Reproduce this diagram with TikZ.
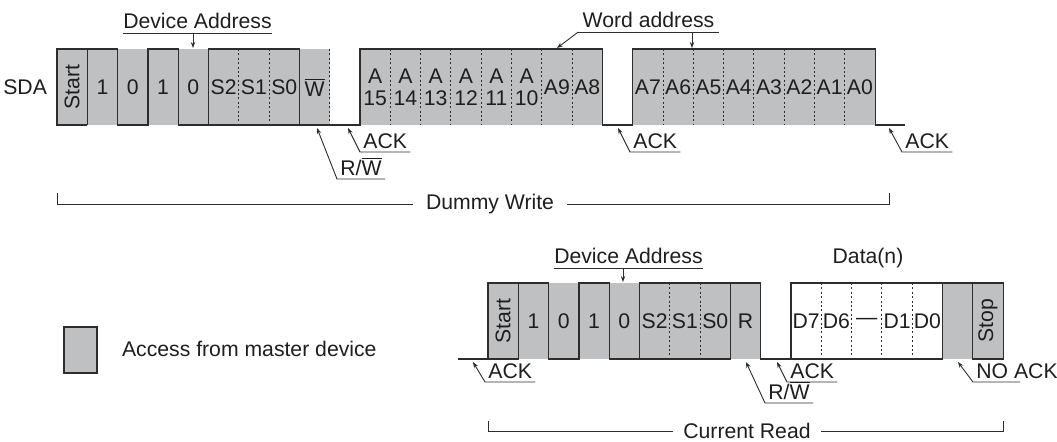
\documentclass[tikz,border=0pt]{standalone}
\usepackage{fontspec}
\setmainfont{Liberation Sans}
\usetikzlibrary{arrows.meta}
\definecolor{mastergray}{RGB}{191,192,194}
\definecolor{wirecol}{RGB}{45,45,45}
\definecolor{inkcol}{RGB}{30,30,30}

\begin{document}
\begin{tikzpicture}[x=0.5pt, y=-0.5pt,
every node/.style = {font=\fontsize{10.6}{11}\selectfont, text=inkcol},
master/.style = {fill=mastergray},
wire/.style = {draw=wirecol, line width=0.6pt},
divider/.style = {draw=wirecol, line width=0.45pt, dash pattern=on 1pt off 1.2pt},
bit/.style = {inner sep=0pt},
ul/.style = {anchor=south west, inner xsep=1.5pt, inner ysep=1.5pt, text depth=0pt},
hdr/.style = {anchor=south, inner xsep=0pt, inner ysep=2pt, text depth=0pt},
ptr/.style = {draw=wirecol, line width=0.45pt, -{Stealth[length=3pt, width=2.2pt]}}]
\useasboundingbox (0,0) rectangle (1057,441);

% dummy write: one unit of x is one bit cell
\begin{scope}[xshift=28.5pt, x=15.15pt]
  \fill[master] (0,49) rectangle (9,125);
  \fill[master] (10,49) rectangle (18,125);
  \fill[master] (19,49) rectangle (27,125);
  \draw[wire] (1,125) -- (0,125) -- (0,49) -- (2,49) -- (2,125) -- (3,125) -- (3,49)
    -- (4,49) -- (4,125) -- (10,125) -- (10,49) -- (18,49) -- (18,125) -- (19,125)
    -- (19,49) -- (27,49) -- (27,125) -- (28,125);
  \draw[wire] (1,49) -- (1,125);
  \draw[wire] (5,125) -- (5,49) -- (8,49) -- (8,125);
  \foreach \k in {6,7,9,11,12,...,17,20,21,...,26}
    \draw[divider] (\k,49) -- (\k,125);
  \node[bit, rotate=90] (dwstart) at (0.5,87) {Start};
  \foreach \lbl [count=\k from 1] in {1,0,1,0,S2,S1,S0,{$\overline{\mbox{W}}$}}
    \node[bit] (dwbit\k) at (\k+0.5,87) {\lbl};
  \foreach \n [count=\k from 0] in {15,14,13,12,11,10}
    \node[bit, align=center] (dwa\n) at (10.5+\k,87) {A\\\n};
  \node[bit] (dwa9) at (16.5,87) {A9};
  \node[bit] (dwa8) at (17.5,87) {A8};
  \foreach \n [count=\k from 0] in {7,6,...,0}
    \node[bit] (dwa\n) at (19.5+\k,87) {A\n};
\end{scope}

% current read
\begin{scope}[xshift=244pt, yshift=-117pt, x=15.15pt]
  \fill[master] (0,49) rectangle (9,125);
  \fill[master] (15,49) rectangle (17,125);
  \draw[wire] (-1,125) -- (1,125) -- (1,49);
  \draw[wire] (0,125) -- (0,49) -- (2,49) -- (2,125) -- (3,125) -- (3,49)
    -- (4,49) -- (4,125) -- (8,125) -- (8,49);
  \draw[wire] (5,125) -- (5,49) -- (9,49) -- (9,125) -- (15,125) -- (15,49);
  \draw[wire] (10,125) -- (10,49) -- (17,49) -- (17,125) -- (16,125) -- (16,49);
  \foreach \k in {6,7,11,12,13,14}
    \draw[divider] (\k,49) -- (\k,125);
  \node[bit, rotate=90] (crstart) at (0.5,87) {Start};
  \foreach \lbl [count=\k from 1] in {1,0,1,0,S2,S1,S0,R}
    \node[bit] (crbit\k) at (\k+0.5,87) {\lbl};
  \foreach \lbl [count=\k from 0] in {D7,D6,\textemdash,D1,D0}
    \node[bit] (crd\k) at (10.5+\k,87) {\lbl};
  \node[bit, rotate=90] (crstop) at (16.5,87) {Stop};
\end{scope}

\node[anchor=east] (sda) at (54,87) {SDA};

% headings over the frames
\node[hdr] (dwdev) at (197.5,33) {Device Address};
\draw[wire, line width=0.45pt] (dwdev.south west) -- (dwdev.south east);
\coordinate (dwdevtip) at (193,48);
\draw[ptr] (dwdevtip |- dwdev.south) -- (dwdevtip);

\node[hdr, inner xsep=2pt] (wadr) at (648.5,32) {Word address};
\draw[wire, line width=0.45pt] (wadr.south west) -- (wadr.south east);
\coordinate (wadrhi) at (557,48);
\coordinate (wadrlo) at (692,48);
\draw[ptr] (wadr.south west) -- (wadrhi);
\draw[ptr] (wadrlo |- wadr.south) -- (wadrlo);

\node[hdr] (crdev) at (628.5,268) {Device Address};
\draw[wire, line width=0.45pt] (crdev.south west) -- (crdev.south east);
\coordinate (crdevtip) at (623,282);
\draw[ptr] (crdevtip |- crdev.south) -- (crdevtip);

\node (crdata) at (868,258) {Data(n)};

% acknowledge and R/W tags
\coordinate (dwrwtip) at (317,128);
\node[ul] (dwrw) at (337,179) {R/$\overline{\mbox{W}}$};
\draw[ptr] (dwrw.south east) -- (dwrw.south west) -- (dwrwtip);
\foreach \name/\tip/\at in {dwack1/348/360, dwack2/618/630, dwack3/889/902} {
  \coordinate (\name tip) at (\tip,128);
  \node[ul] (\name) at (\at,152) {ACK};
  \draw[ptr] (\name.south east) -- (\name.south west) -- (\name tip);
}
\foreach \name/\tip/\at in {crack1/473/485, crack2/777/787} {
  \coordinate (\name tip) at (\tip,362);
  \node[ul] (\name) at (\at,382) {ACK};
  \draw[ptr] (\name.south east) -- (\name.south west) -- (\name tip);
}
\coordinate (crrwtip) at (746,362);
\node[ul] (crrw) at (765,403) {R/$\overline{\mbox{W}}$};
\draw[ptr] (crrw.south east) -- (crrw.south west) -- (crrwtip);
\coordinate (crnoacktip) at (958,362);
\coordinate (crnoackend) at (1020,382);
\node[ul] (crnoack) at (973,382) {NO ACK};
\draw[ptr] (crnoackend) -- (crnoack.south west) -- (crnoacktip);

% spans
\node[inner xsep=6.5pt] (dwspan) at (490,204) {Dummy Write};
\coordinate (dwspanl) at (57,193);
\coordinate (dwspanr) at (889,193);
\draw[wire, line width=0.5pt] (dwspanl) |- (dwspan.west);
\draw[wire, line width=0.5pt] (dwspan.east) -| (dwspanr);

\node[inner xsep=5pt] (crspan) at (747,431) {Current Read};
\coordinate (crspanl) at (488,421);
\coordinate (crspanr) at (1003,421);
\draw[wire, line width=0.5pt] (crspanl) |- (crspan.west);
\draw[wire, line width=0.5pt] (crspan.east) -| (crspanr);

% legend
\node[draw=wirecol, line width=0.6pt, fill=mastergray, minimum width=16.5pt,
  minimum height=23pt, inner sep=0pt] (legbox) at (80.5,350) {};
\node[anchor=west] (legtxt) at (115,349) {Access from master device};
\end{tikzpicture}
\end{document}
